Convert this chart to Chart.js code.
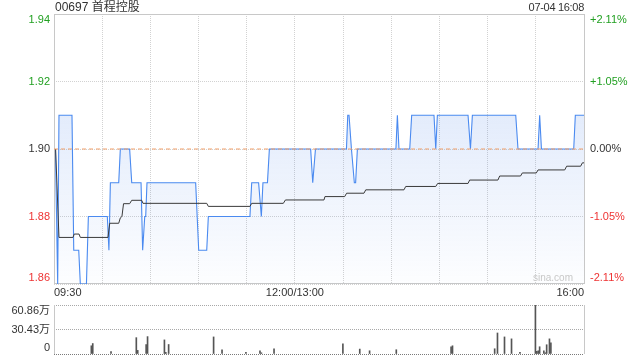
<!DOCTYPE html>
<html><head><meta charset="utf-8">
<script src="https://cdn.jsdelivr.net/npm/chart.js@4"></script>
<style>
html,body{margin:0;padding:0;background:#fff;width:640px;height:360px;overflow:hidden;font-family:"Liberation Sans",Arial,"Noto Sans CJK SC",sans-serif;}
#wrap{position:relative;width:640px;height:360px;}
#main{position:absolute;left:0;top:0;}
#vol{position:absolute;left:0;top:300px;}
.t{position:absolute;font-size:12px;color:#333;line-height:14px;white-space:nowrap;}
</style></head><body>
<div id="wrap">
<canvas id="main" width="640" height="300"></canvas>
<canvas id="vol" width="640" height="60"></canvas>
<div class="t" style="left:55px;top:0px;">00697 首程控股</div>
<div class="t" style="right:56px;top:0px;font-size:11px;letter-spacing:-0.3px;">07-04 16:08</div>
<div class="t" style="right:67px;top:272px;font-size:10px;line-height:12px;color:#c8c8c8;">sina.com</div>
</div>
<script>
// ---- data (minutes after 09:30, trading minutes only) ----
const prevClose = 1.90;
const priceMin = [0.9, 2.3, 3.1, 11.2, 12.3, 15.4, 16.4, 20.2, 21.4, 33.2, 34.2, 35.1, 40.3, 41.3, 47.1, 48.4, 54.2, 55.2, 56.5, 57.1, 57.9, 88.2, 90.1, 95.1, 96.1, 122.0, 123.1, 127.4, 129.1, 130.1, 132.9, 134.1, 159.8, 161.1, 162.8, 182.1, 182.9, 183.7, 185.2, 187.0, 187.8, 188.9, 212.9, 213.8, 214.8, 221.5, 222.7, 236.6, 237.7, 238.7, 257.8, 259.3, 260.5, 287.5, 288.9, 301.4, 302.4, 303.5, 323.6, 324.6, 330];
const priceVal = [1.90, 1.86, 1.91, 1.91, 1.87, 1.87, 1.86, 1.86, 1.88, 1.88, 1.87, 1.89, 1.89, 1.90, 1.90, 1.89, 1.89, 1.87, 1.88, 1.88, 1.89, 1.89, 1.87, 1.87, 1.88, 1.88, 1.89, 1.89, 1.88, 1.89, 1.89, 1.90, 1.90, 1.89, 1.90, 1.90, 1.91, 1.91, 1.90, 1.89, 1.89, 1.90, 1.90, 1.91, 1.90, 1.90, 1.91, 1.91, 1.90, 1.91, 1.91, 1.90, 1.91, 1.91, 1.90, 1.90, 1.91, 1.90, 1.90, 1.91, 1.91];
const avgMin = [1.0, 3.1, 11.8, 12.6, 15.6, 16.4, 33.6, 34.7, 40.3, 41.3, 42.3, 43.3, 47.1, 48.4, 54.6, 55.4, 95.1, 96.1, 122.0, 123.1, 142.8, 144.1, 168.1, 168.7, 181.0, 182.2, 193.0, 194.1, 217.9, 219.0, 237.7, 238.9, 257.8, 258.8, 276.4, 277.5, 290.5, 291.6, 300.3, 301.4, 318.0, 319.2, 327.9, 329.0, 330];
const avgVal = [1.90, 1.8738, 1.8738, 1.8748, 1.8748, 1.8738, 1.8738, 1.8780, 1.8780, 1.8796, 1.8800, 1.8838, 1.8838, 1.8848, 1.8848, 1.8839, 1.8839, 1.8830, 1.8830, 1.8839, 1.8839, 1.8849, 1.8849, 1.8859, 1.8859, 1.8869, 1.8869, 1.8879, 1.8879, 1.8889, 1.8889, 1.8898, 1.8898, 1.8908, 1.8908, 1.8920, 1.8920, 1.8929, 1.8929, 1.8938, 1.8938, 1.8949, 1.8949, 1.8959, 1.8959];
const volMin = [3, 4, 17, 35, 36, 42, 43, 55, 56, 58, 90, 96, 113, 123, 124, 133, 182, 194, 201, 220, 259, 260, 290, 292, 297, 302, 308, 319, 320, 321, 322, 325, 326, 327, 329, 330];
const volVal = [10.2, 13.0, 2.9, 20.3, 4.5, 11.8, 21.6, 17.5, 2.0, 11.8, 21.2, 5.3, 2.0, 4.0, 1.5, 6.5, 12.6, 6.1, 4.0, 5.3, 9.0, 10.2, 6.5, 26.1, 21.2, 18.8, 2.0, 60.4, 3.3, 4.0, 9.0, 4.0, 1.5, 11.5, 18.8, 13.9];
const priceTicks = [1.86, 1.88, 1.90, 1.92, 1.94];
const priceTickLabels = ['1.86', '1.88', '1.90', '1.92', '1.94'];
const pctTickLabels = ['-2.11%', '-1.05%', '0.00%', '+1.05%', '+2.11%'];
const tickColors = ['#ee3333', '#ee3333', '#333333', '#22a022', '#22a022'];
const gridMinutes = [0, 30, 60, 90, 120, 150, 180, 210, 240, 270, 300, 330];
const timeTickMin = [0, 150, 330];
const timeTickLabels = ['09:30', '12:00/13:00', '16:00'];
const volTicks = [0, 30.43, 60.86];
const volTickLabels = ['0', '30.43万', '60.86万'];
const volGridColors = ['#7a7a7a', '#a8a8a8', '#a8a8a8'];

const FAM = "'Liberation Sans', Arial, 'Noto Sans CJK SC', sans-serif";
const font11 = {family: FAM, size: 11, lineHeight: 1.1};
const GRID = '#d2d2d2';
const FRAME = '#c8c8c8';

// shift first/last tick labels inward using an empty line
function edge(i, n, text) {
  if (i === n - 1) return ['', text];
  if (i === 0) return [text, ''];
  return text;
}
function setTicks(arr) { return s => { s.ticks = arr.map(v => ({value: v})); }; }

const framePlugin = {
  id: 'frame',
  beforeDatasetsDraw(chart) {
    const {ctx, chartArea: a} = chart;
    ctx.save();
    ctx.strokeStyle = FRAME; ctx.lineWidth = 1;
    ctx.strokeRect(Math.round(a.left) + 0.5, Math.round(a.top) + 0.5, Math.round(a.right - a.left), Math.round(a.bottom - a.top) - 1);
    ctx.restore();
  }
};
const sidesPlugin = {
  id: 'sides',
  beforeDatasetsDraw(chart) {
    const {ctx, chartArea: a} = chart;
    ctx.save();
    ctx.strokeStyle = FRAME; ctx.lineWidth = 1;
    ctx.beginPath();
    ctx.moveTo(Math.round(a.left) + 0.5, a.top); ctx.lineTo(Math.round(a.left) + 0.5, a.bottom);
    ctx.moveTo(Math.round(a.right) + 0.5, a.top); ctx.lineTo(Math.round(a.right) + 0.5, a.bottom);
    ctx.stroke();
    ctx.restore();
  }
};

new Chart(document.getElementById('main'), {
  type: 'line',
  data: {
    datasets: [
      {
        data: priceMin.map((m, i) => ({x: m, y: priceVal[i]})),
        borderColor: '#4a8af0', borderWidth: 1.1, pointRadius: 0, tension: 0,
        fill: 'start', order: 3,
        backgroundColor: c => {
          const a = c.chart.chartArea;
          if (!a) return 'rgba(0,0,0,0)';
          const g = c.chart.ctx.createLinearGradient(0, a.top, 0, a.bottom);
          g.addColorStop(0, 'rgba(60,120,230,0.22)');
          g.addColorStop(1, 'rgba(60,120,230,0.01)');
          return g;
        }
      },
      {
        data: avgMin.map((m, i) => ({x: m, y: avgVal[i]})),
        borderColor: '#3a3a3a', borderWidth: 1, pointRadius: 0, tension: 0, fill: false, order: 2
      },
      {
        data: [{x: 0, y: prevClose}, {x: 330, y: prevClose}],
        borderColor: '#f2a06a', borderWidth: 1, borderDash: [4, 3], pointRadius: 0, fill: false, order: 1
      }
    ]
  },
  options: {
    responsive: false, animation: false,
    layout: {padding: {top: 14, left: 0, right: 0, bottom: 0}},
    plugins: {legend: {display: false}, tooltip: {enabled: false}},
    scales: {
      x: {
        type: 'linear', min: 0, max: 330, position: 'bottom',
        afterBuildTicks: setTicks(gridMinutes),
        afterFit: s => { s.height = 16; s.paddingLeft = 0; s.paddingRight = 0; },
        ticks: {
          autoSkip: false, maxRotation: 0, minRotation: 0, align: 'inner', padding: 3, color: '#333', font: font11,
          callback: v => { const i = timeTickMin.indexOf(v); return i >= 0 ? timeTickLabels[i] : ''; }
        },
        grid: {color: GRID, drawTicks: false},
        border: {display: false, dash: [1, 1]}
      },
      y: {
        type: 'linear', position: 'left', min: 1.86, max: 1.94,
        afterBuildTicks: setTicks(priceTicks),
        afterFit: s => { s.width = 54; s.paddingTop = 0; s.paddingBottom = 0; },
        ticks: {
          autoSkip: false, padding: 4, font: font11, color: c => tickColors[c.index],
          callback: (v, i) => edge(i, priceTicks.length, priceTickLabels[i])
        },
        grid: {color: GRID, drawTicks: false},
        border: {display: false, dash: [1, 1]}
      },
      yr: {
        type: 'linear', position: 'right', min: 1.86, max: 1.94,
        afterBuildTicks: setTicks(priceTicks),
        afterFit: s => { s.width = 56; s.paddingTop = 0; s.paddingBottom = 0; },
        ticks: {
          autoSkip: false, padding: 6, font: font11, color: c => tickColors[c.index],
          callback: (v, i) => edge(i, priceTicks.length, pctTickLabels[i])
        },
        grid: {display: false, drawTicks: false},
        border: {display: false}
      }
    }
  },
  plugins: [framePlugin]
});

new Chart(document.getElementById('vol'), {
  type: 'bar',
  data: {
    datasets: [{
      data: volMin.map((m, i) => ({x: m, y: volVal[i]})),
      backgroundColor: '#555555', borderWidth: 0, barThickness: 1, grouped: false
    }]
  },
  options: {
    responsive: false, animation: false,
    layout: {padding: {top: 5, bottom: 6, left: 0, right: 0}},
    plugins: {legend: {display: false}, tooltip: {enabled: false}},
    scales: {
      x: {type: 'linear', min: 0, max: 330, display: false},
      y: {
        type: 'linear', position: 'left', min: 0, max: 60.86,
        afterBuildTicks: setTicks(volTicks),
        afterFit: s => { s.width = 54; s.paddingTop = 0; s.paddingBottom = 0; },
        ticks: {
          autoSkip: false, padding: 4, font: font11, color: '#333',
          callback: (v, i) => edge(i, volTicks.length, volTickLabels[i])
        },
        grid: {display: true, drawOnChartArea: true, drawTicks: false, lineWidth: 1, color: c => volGridColors[c.index] || '#a8a8a8'},
        border: {display: false, dash: [1, 1]}
      },
      yr: {
        type: 'linear', position: 'right', min: 0, max: 60.86,
        afterFit: s => { s.width = 56; s.paddingTop = 0; s.paddingBottom = 0; },
        ticks: {display: false},
        grid: {display: false, drawTicks: false},
        border: {display: false}
      }
    }
  },
  plugins: [sidesPlugin]
});
</script>
</body></html>
